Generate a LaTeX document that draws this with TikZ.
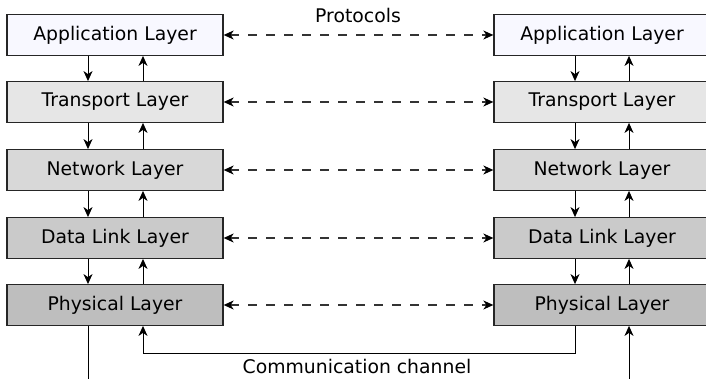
\documentclass[tikz,border=0pt]{standalone}
\usepackage{fontspec}
\setmainfont{DejaVu Sans}
\usetikzlibrary{arrows.meta}
\definecolor{cApp}{HTML}{F8F8FF}
\definecolor{cTra}{HTML}{E6E6E6}
\definecolor{cNet}{HTML}{D8D8D8}
\definecolor{cDat}{HTML}{CACACA}
\definecolor{cPhy}{HTML}{BEBEBE}
\tikzset{
  layer/.style={draw=black!85, line width=1.3pt, minimum width=216pt, minimum height=40.5pt,
    inner sep=0pt, font=\fontsize{18.8}{21}\selectfont},
  arr/.style={line width=1pt, -{Stealth[length=10pt,width=9pt,inset=3pt]}},
  plain/.style={line width=1pt},
  proto/.style={line width=1.1pt, draw=black!80, dash pattern=on 9pt off 9pt,
    {Stealth[length=10pt,width=9pt,inset=3pt,black]}-{Stealth[length=10pt,width=9pt,inset=3pt,black]}},
  lbl/.style={font=\fontsize{18.8}{21}\selectfont, inner sep=0pt}
}
\begin{document}
\begin{tikzpicture}[x=1pt,y=1pt]
\useasboundingbox (0,0) rectangle (706,-379);
% left stack
\node[layer, fill=cApp] (L1) at (115,-35)  {\raisebox{-1pt}{Application Layer}};
\node[layer, fill=cTra] (L2) at (115,-102) {\raisebox{-1pt}{Transport Layer}};
\node[layer, fill=cNet] (L3) at (115,-170) {\raisebox{-1pt}{Network Layer}};
\node[layer, fill=cDat] (L4) at (115,-238) {\raisebox{-1pt}{Data Link Layer}};
\node[layer, fill=cPhy] (L5) at (115,-305) {\raisebox{-1pt}{Physical Layer}};
% right stack
\node[layer, fill=cApp] (R1) at (602,-35)  {\raisebox{-1pt}{Application Layer}};
\node[layer, fill=cTra] (R2) at (602,-102) {\raisebox{-1pt}{Transport Layer}};
\node[layer, fill=cNet] (R3) at (602,-170) {\raisebox{-1pt}{Network Layer}};
\node[layer, fill=cDat] (R4) at (602,-238) {\raisebox{-1pt}{Data Link Layer}};
\node[layer, fill=cPhy] (R5) at (602,-305) {\raisebox{-1pt}{Physical Layer}};
% vertical arrows
\foreach \a/\b in {1/2,2/3,3/4,4/5}{
  \draw[arr] ([xshift=-27pt]L\a.south) -- ([xshift=-27pt]L\b.north);
  \draw[arr] ([xshift=28pt]L\b.north) -- ([xshift=28pt]L\a.south);
  \draw[arr] ([xshift=-27pt]R\a.south) -- ([xshift=-27pt]R\b.north);
  \draw[arr] ([xshift=27pt]R\b.north) -- ([xshift=27pt]R\a.south);
}
% protocols
\foreach \i in {1,...,5}{
  \draw[proto] (L\i.east) -- (R\i.west);
}
\node[lbl] (P) at (358,-15) {Protocols};
% bottom
\coordinate (LB) at (88,-379);
\coordinate (RB) at (629,-379);
\coordinate (C1) at (575,-353);
\coordinate (C2) at (143,-353);
\draw[plain] ([xshift=-27pt]L5.south) -- (LB);
\draw[arr] (RB) -- ([xshift=27pt]R5.south);
\draw[arr] ([xshift=-27pt]R5.south) -- (C1) -- (C2) -- ([xshift=28pt]L5.south);
\node[lbl] (CC) at (357,-366) {Communication channel};
\end{tikzpicture}
\end{document}
